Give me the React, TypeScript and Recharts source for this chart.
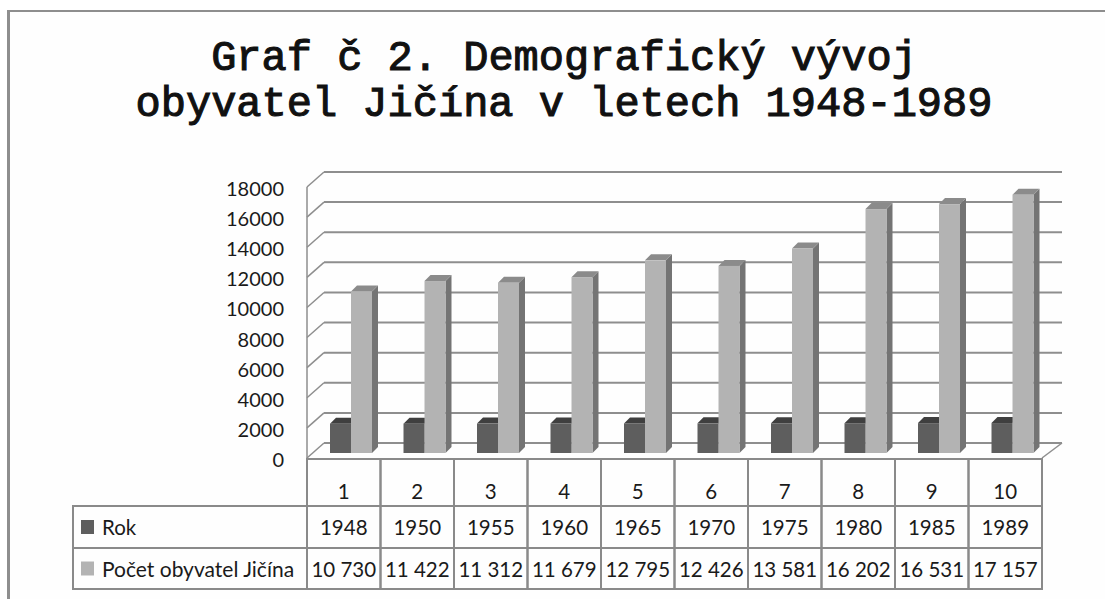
import React from 'react';
import { BarChart, Bar, XAxis, YAxis, CartesianGrid } from 'recharts';

// ---- data ----
const categories = [1, 2, 3, 4, 5, 6, 7, 8, 9, 10];
const years = [1948, 1950, 1955, 1960, 1965, 1970, 1975, 1980, 1985, 1989];
const population = [10730, 11422, 11312, 11679, 12795, 12426, 13581, 16202, 16531, 17157];
const yTicks = [0, 2000, 4000, 6000, 8000, 10000, 12000, 14000, 16000, 18000];
const seriesNames = ['Rok', 'Počet obyvatel Jičína'];
const titleLines = ['Graf č 2. Demografický vývoj', 'obyvatel Jičína v letech 1948-1989'];

const data = categories.map((c, i) => ({ cat: c, rok: years[i], pocet: population[i] }));

// ---- layout ----
const W = 1105;
const H = 599;
const PLOT_LEFT = 307;
const PLOT_RIGHT = 1042;
const PLOT_TOP = 182;
const PLOT_BOTTOM = 453;
const Y_AXIS_W = 60;
const X_AXIS_H = 136;
const COL_W = (PLOT_RIGHT - PLOT_LEFT) / categories.length;
const DX = 17; // depth x offset front->back
const FRONT_DY = 5; // front plane below bar plane
const BACK_DY = -10; // back wall above bar plane
const BAR_SHIFT = 7;
const BAR_DEPTH = 6;

const TABLE_LEFT = 73;
const ROW_HEAD_TOP = PLOT_BOTTOM + FRONT_DY + 1;
const ROW1_TOP = 506;
const ROW2_TOP = 548;
const TABLE_BOTTOM = 589;

const GRID_COLOR = '#8e8e8e';
const TABLE_COLOR = '#8a8a8a';
const TEXT_COLOR = '#1a1a1a';
const FONT = 'Lato, "Open Sans", sans-serif';

const DARK = { front: '#5e5e5e', top: '#3f3f3f', side: '#474747' };
const LIGHT = { front: '#b3b3b3', top: '#8b8b8b', side: '#747474' };

const fmt = (n: number) => String(n).replace(/\B(?=(\d{3})+(?!\d))/g, ' ');

const Bar3D = (props: any, col: { front: string; top: string; side: string }) => {
  const { x, y, width, height } = props;
  if (x == null || y == null) return <g />;
  const fx = x + BAR_SHIFT;
  const d = BAR_DEPTH;
  return (
    <g>
      <polygon
        points={`${fx + width},${y} ${fx + width + d},${y - d} ${fx + width + d},${y + height - d} ${fx + width},${y + height}`}
        fill={col.side}
      />
      <polygon points={`${fx},${y} ${fx + d},${y - d} ${fx + width + d},${y - d} ${fx + width},${y}`} fill={col.top} />
      <rect x={fx} y={y} width={width} height={height} fill={col.front} />
    </g>
  );
};

const GridLine = (p: any) => {
  const { x1, x2, y1 } = p;
  const y = y1;
  const isTop = Math.abs(y - PLOT_TOP) < 1;
  const isBottom = Math.abs(y - PLOT_BOTTOM) < 1;
  return (
    <g key={p.key}>
      <line x1={x1 + DX} y1={y + BACK_DY} x2={x2 + DX + 3} y2={y + BACK_DY} stroke={GRID_COLOR} strokeWidth={2} />
      <line x1={x1} y1={y + FRONT_DY} x2={x1 + DX} y2={y + BACK_DY} stroke={GRID_COLOR} strokeWidth={1.5} />
      {isTop && (
        <line x1={x1} y1={y + FRONT_DY} x2={x1} y2={PLOT_BOTTOM + FRONT_DY} stroke={GRID_COLOR} strokeWidth={1.5} />
      )}
      {isBottom && (
        <line x1={x2} y1={y + FRONT_DY} x2={x2 + DX + 3} y2={y + BACK_DY} stroke={GRID_COLOR} strokeWidth={1.5} />
      )}
    </g>
  );
};

const YTick = (p: any) => {
  const { y, payload } = p;
  return (
    <text
      x={PLOT_LEFT - 23}
      y={y + 6}
      textAnchor="end"
      dominantBaseline="central"
      fontFamily={FONT}
      fontSize={20}
      fill={TEXT_COLOR}
    >
      {payload.value}
    </text>
  );
};

const cellText = (x: number, y: number, t: string | number, key: string) => (
  <text key={key} x={x} y={y} textAnchor="middle" dominantBaseline="central" fontFamily={FONT} fontSize={20.5} fill={TEXT_COLOR}>
    {t}
  </text>
);

const TableColumn = (p: any) => {
  const { x, index, payload } = p;
  const L = x - COL_W / 2;
  const R = x + COL_W / 2;
  const i = index;
  const stroke = { stroke: TABLE_COLOR, strokeWidth: 2, fill: 'none' };
  return (
    <g>
      <rect x={L} y={ROW_HEAD_TOP} width={R - L} height={ROW1_TOP - ROW_HEAD_TOP} {...stroke} />
      <rect x={L} y={ROW1_TOP} width={R - L} height={ROW2_TOP - ROW1_TOP} {...stroke} />
      <rect x={L} y={ROW2_TOP} width={R - L} height={TABLE_BOTTOM - ROW2_TOP} {...stroke} />
      {cellText(x, 491, payload.value, 'h')}
      {cellText(x, (ROW1_TOP + ROW2_TOP) / 2, years[i], 'r')}
      {cellText(x, (ROW2_TOP + TABLE_BOTTOM) / 2, fmt(population[i]), 'p')}
      {i === 0 && (
        <g>
          <rect x={TABLE_LEFT} y={ROW1_TOP} width={L - TABLE_LEFT} height={ROW2_TOP - ROW1_TOP} {...stroke} />
          <rect x={TABLE_LEFT} y={ROW2_TOP} width={L - TABLE_LEFT} height={TABLE_BOTTOM - ROW2_TOP} {...stroke} />
          <rect x={TABLE_LEFT + 8} y={(ROW1_TOP + ROW2_TOP) / 2 - 7} width={13} height={14} fill={DARK.front} />
          <rect x={TABLE_LEFT + 8} y={(ROW2_TOP + TABLE_BOTTOM) / 2 - 7} width={13} height={14} fill={LIGHT.front} />
          <text x={TABLE_LEFT + 29} y={(ROW1_TOP + ROW2_TOP) / 2} dominantBaseline="central" fontFamily={FONT} fontSize={20.5} fill={TEXT_COLOR}>
            {seriesNames[0]}
          </text>
          <text x={TABLE_LEFT + 29} y={(ROW2_TOP + TABLE_BOTTOM) / 2} dominantBaseline="central" fontFamily={FONT} fontSize={21} fill={TEXT_COLOR}>
            {seriesNames[1]}
          </text>
        </g>
      )}
    </g>
  );
};

export default function App() {
  return (
    <div style={{ position: 'absolute', left: 0, top: 0, width: W, height: H, background: '#ffffff', overflow: 'hidden' }}>
      <div
        style={{
          position: 'absolute',
          left: 7,
          top: 10,
          width: W,
          height: H,
          borderLeft: '3px solid #8e8e8e',
          borderTop: '2px solid #8e8e8e',
          background: '#fefefe',
        }}
      />
      <div
        style={{
          position: 'absolute',
          left: 0,
          top: 36,
          width: 1128,
          textAlign: 'center',
          fontFamily: '"Courier New", "Nimbus Mono PS", "Nimbus Mono L", FreeMono, "Liberation Mono", monospace',
          fontWeight: 'normal',
          fontSize: 42,
          lineHeight: '46px',
          color: '#111',
          WebkitTextStroke: '1.1px #111',
          whiteSpace: 'pre',
        }}
      >
        {titleLines.map((t) => (
          <div key={t}>{t}</div>
        ))}
      </div>
      <div style={{ position: 'absolute', left: 0, top: 0 }}>
        <BarChart
          width={W}
          height={H}
          data={data}
          margin={{ top: PLOT_TOP, right: W - PLOT_RIGHT, bottom: H - PLOT_BOTTOM - X_AXIS_H, left: PLOT_LEFT - Y_AXIS_W }}
          barGap={0}
          barSize={21}
        >
          <CartesianGrid horizontal={GridLine as any} vertical={false} />
          <XAxis dataKey="cat" axisLine={false} tickLine={false} height={X_AXIS_H} interval={0} tick={TableColumn as any} />
          <YAxis
            domain={[0, 18000]}
            ticks={yTicks}
            width={Y_AXIS_W}
            axisLine={false}
            tickLine={false}
            interval={0}
            tick={YTick as any}
          />
          <Bar dataKey="rok" name={seriesNames[0]} isAnimationActive={false} shape={(p: any) => Bar3D(p, DARK)} />
          <Bar dataKey="pocet" name={seriesNames[1]} isAnimationActive={false} shape={(p: any) => Bar3D(p, LIGHT)} />
        </BarChart>
      </div>
    </div>
  );
}
